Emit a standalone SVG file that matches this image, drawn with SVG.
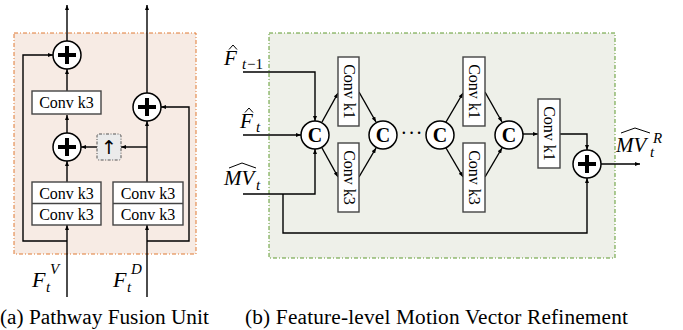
<svg xmlns="http://www.w3.org/2000/svg" width="683" height="330" viewBox="0 0 683 330">
<defs>
<marker id="ah" viewBox="0 0 10 10" refX="10" refY="5" markerWidth="5" markerHeight="5" orient="auto" markerUnits="userSpaceOnUse">
<path d="M0,1 L10,5 L0,9 Z" fill="#000"/>
</marker>
<style>
.ar{fill:none;stroke:#000;stroke-width:1.4;marker-end:url(#ah)}
.box{fill:#fff;stroke:#444;stroke-width:1.4}
.circ{fill:#fff;stroke:#000;stroke-width:1.5}
.plus{stroke:#000;stroke-width:4;fill:none}
.hat{fill:none;stroke:#000;stroke-width:1}
.t{font-family:"Liberation Serif","Times New Roman",serif;fill:#000}
.ct{font-family:"Liberation Serif","Times New Roman",serif;font-size:16px;fill:#000}
.c{font-family:"Liberation Serif","Times New Roman",serif;font-size:20px;font-weight:bold;fill:#000}
.m{font-family:"Liberation Serif","Times New Roman",serif;font-style:italic;fill:#000}
.cap{font-family:"Liberation Serif","Times New Roman",serif;font-size:21.3px;fill:#000}
</style>
</defs>

<!-- panel backgrounds -->
<rect id="panel-a" x="14" y="33" width="182" height="221" fill="#f7ebe4" stroke="#e07a35" stroke-width="1" stroke-dasharray="4,2,1,2"/>
<rect id="panel-b" x="269" y="33" width="346" height="225" fill="#eef0e9" stroke="#5e9a2e" stroke-width="1" stroke-dasharray="4,2,1,2"/>

<g id="connectors">
<!-- panel a -->
<line class="ar" x1="67" y1="41" x2="67" y2="5"/>
<line class="ar" x1="147" y1="93" x2="147" y2="5"/>
<line class="ar" x1="67" y1="91" x2="67" y2="69"/>
<line class="ar" x1="67" y1="133" x2="67" y2="115"/>
<line class="ar" x1="67" y1="182" x2="67" y2="161"/>
<line class="ar" x1="147" y1="182" x2="147" y2="121"/>
<line class="ar" x1="147" y1="147" x2="121" y2="147"/>
<line class="ar" x1="97" y1="147" x2="81" y2="147"/>
<line class="ar" x1="67" y1="297" x2="67" y2="225"/>
<line class="ar" x1="147" y1="297" x2="147" y2="225"/>
<polyline class="ar" points="67,241 23,241 23,55 53,55"/>
<polyline class="ar" points="147,241 189,241 189,107 161,107"/>
<!-- panel b -->
<polyline class="ar" points="243,72 315,72 315,121"/>
<line class="ar" x1="243" y1="135" x2="301" y2="135"/>
<polyline class="ar" points="243,194 315,194 315,149"/>
<line class="ar" x1="322" y1="122" x2="338" y2="93"/>
<line class="ar" x1="322" y1="148" x2="338" y2="177"/>
<line class="ar" x1="359" y1="92" x2="376" y2="122"/>
<line class="ar" x1="359" y1="177" x2="376" y2="148"/>
<line class="ar" x1="446" y1="122" x2="463" y2="93"/>
<line class="ar" x1="446" y1="148" x2="463" y2="177"/>
<line class="ar" x1="485" y1="92" x2="502" y2="122"/>
<line class="ar" x1="485" y1="177" x2="502" y2="148"/>
<line class="ar" x1="523" y1="134" x2="538" y2="134"/>
<polyline class="ar" points="560,134 587,134 587,150"/>
<polyline class="ar" points="283,194 283,233 587,233 587,178"/>
<line class="ar" x1="601" y1="164" x2="640" y2="164"/>
</g>

<!-- panel a nodes -->
<g id="add-top"><circle class="circ" cx="67" cy="55" r="14"/><path class="plus" d="M58,55 H76 M67,46 V64"/></g>
<g id="conv-a-top"><rect class="box" x="32" y="91" width="69" height="23"/><text class="ct" x="66.5" y="108" text-anchor="middle">Conv k3</text></g>
<g id="add-mid"><circle class="circ" cx="67" cy="147" r="14"/><path class="plus" d="M58,147 H76 M67,138 V156"/></g>
<g id="upsample"><rect x="97" y="134" width="24" height="26" rx="2" fill="#ebebeb" stroke="#555" stroke-width="1" stroke-dasharray="3,1.5,1,1.5"/><text x="109" y="154" font-family="'DejaVu Sans',sans-serif" font-size="19" text-anchor="middle" fill="#000">↑</text></g>
<g id="add-right"><circle class="circ" cx="147" cy="107" r="14"/><path class="plus" d="M138,107 H156 M147,98 V116"/></g>
<g id="conv-a-left"><rect class="box" x="32" y="182" width="69" height="43"/><line x1="32" y1="203.5" x2="101" y2="203.5" stroke="#444" stroke-width="1.4"/><text class="ct" x="66.5" y="198.5" text-anchor="middle">Conv k3</text><text class="ct" x="66.5" y="220" text-anchor="middle">Conv k3</text></g>
<g id="conv-a-right"><rect class="box" x="113" y="182" width="70" height="43"/><line x1="113" y1="203.5" x2="183" y2="203.5" stroke="#444" stroke-width="1.4"/><text class="ct" x="148" y="198.5" text-anchor="middle">Conv k3</text><text class="ct" x="148" y="220" text-anchor="middle">Conv k3</text></g>
<g id="label-ftv"><text class="m" x="32" y="287" font-size="22">F</text><text class="m" x="50" y="274" font-size="15">V</text><text class="m" x="46" y="292" font-size="15">t</text></g>
<g id="label-ftd"><text class="m" x="113" y="287" font-size="22">F</text><text class="m" x="131" y="274" font-size="15">D</text><text class="m" x="127" y="292" font-size="15">t</text></g>
<text id="caption-a" class="cap" x="0" y="324">(a) Pathway Fusion Unit</text>

<!-- panel b nodes -->
<g id="label-ft1"><text class="m" x="224" y="65" font-size="21">F</text><path class="hat" d="M229,49.5 L233,45 L237,49.5"/><text class="m" x="242" y="69" font-size="15">t</text><text class="t" x="247" y="69" font-size="15">−1</text></g>
<g id="label-ft"><text class="m" x="240" y="128" font-size="21">F</text><path class="hat" d="M245,112.5 L249,108 L253,112.5"/><text class="m" x="256" y="132" font-size="15">t</text></g>
<g id="label-mvt"><text class="m" x="224" y="185" font-size="21">MV</text><path class="hat" d="M229,168 L242,163 L256,168"/><text class="m" x="256" y="190" font-size="15">t</text></g>
<g id="cat1"><circle class="circ" cx="315" cy="135" r="14"/><text class="c" x="315" y="142" text-anchor="middle">C</text></g>
<g id="conv-b1-k1"><rect class="box" x="338" y="57" width="21" height="69"/><text class="ct" transform="translate(343.5,91.5) rotate(90)" text-anchor="middle">Conv k1</text></g>
<g id="conv-b1-k3"><rect class="box" x="338" y="143" width="21" height="69"/><text class="ct" transform="translate(343.5,177.5) rotate(90)" text-anchor="middle">Conv k3</text></g>
<g id="cat2"><circle class="circ" cx="383" cy="135" r="14"/><text class="c" x="383" y="142" text-anchor="middle">C</text></g>
<text id="dots" class="t" x="412" y="140" font-size="20" letter-spacing="1" text-anchor="middle">···</text>
<g id="cat3"><circle class="circ" cx="440" cy="135" r="14"/><text class="c" x="440" y="142" text-anchor="middle">C</text></g>
<g id="conv-b2-k1"><rect class="box" x="463" y="57" width="22" height="69"/><text class="ct" transform="translate(469,91.5) rotate(90)" text-anchor="middle">Conv k1</text></g>
<g id="conv-b2-k3"><rect class="box" x="463" y="143" width="22" height="69"/><text class="ct" transform="translate(469,177.5) rotate(90)" text-anchor="middle">Conv k3</text></g>
<g id="cat4"><circle class="circ" cx="509" cy="135" r="14"/><text class="c" x="509" y="142" text-anchor="middle">C</text></g>
<g id="conv-b3-k1"><rect class="box" x="538" y="99" width="22" height="69"/><text class="ct" transform="translate(544,133.5) rotate(90)" text-anchor="middle">Conv k1</text></g>
<g id="add-b"><circle class="circ" cx="587" cy="164" r="14"/><path class="plus" d="M578,164 H596 M587,155 V173"/></g>
<g id="label-mvr"><text class="m" x="616" y="152" font-size="21">MV</text><path class="hat" d="M621,133 L635,128 L650,133"/><text class="m" x="653" y="143" font-size="15">R</text><text class="m" x="650" y="157" font-size="15">t</text></g>
<text id="caption-b" class="cap" x="245" y="324" textLength="383">(b) Feature-level Motion Vector Refinement</text>
</svg>
